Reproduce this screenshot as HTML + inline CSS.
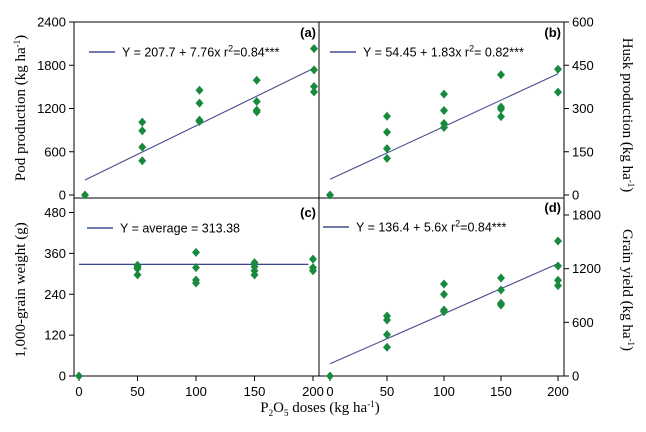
<!DOCTYPE html>
<html><head><meta charset="utf-8"><style>
body{margin:0;background:#fff;width:646px;height:432px;overflow:hidden}
svg{display:block}
.t{font-family:"Liberation Sans",Arial,sans-serif;font-size:13px;fill:#000}
.s{font-family:"Liberation Serif","Times New Roman",serif;font-size:15px;fill:#000}
.l{font-family:"Liberation Sans",Arial,sans-serif;font-size:12.5px;fill:#000}
.p{font-family:"Liberation Sans",Arial,sans-serif;font-size:13px;font-weight:bold;fill:#000}
</style></head><body>
<svg id="chart" width="646" height="432" xmlns="http://www.w3.org/2000/svg"></svg>
<script>
const doses=[0,50,100,150,200];
const podVals=[[0],[1011,891,665,475],[1454,1274,1038,1020],[1592,1297,1177,1154],[2031,1735,1505,1431]];
const huskVals=[[0],[273,218,161,127],[350,293,248,234],[417,305,298,272],[436,357]];
const grainWVals=[[0],[325,320,315,297],[363,318,282,273],[333,321,309,297],[343,318,309]];
const yieldVals=[[0],[671,626,462,321],[1029,913,738,719],[1096,962,813,794],[1509,1230,1070,1010]];
const podFit=[207.7,7.76];
const huskFit=[54.45,1.83];
const grainAvg=[328];
const yieldFit=[136.4,5.6];
const podTicks=[0,600,1200,1800,2400];
const huskTicks=[0,150,300,450,600];
const grainTicks=[0,120,240,360,480];
const yieldTicks=[0,600,1200,1800];
const xTicks=[0,50,100,150,200];

const svg=document.getElementById('chart');
const NS='http://www.w3.org/2000/svg';
function mk(tag,attrs,parent){const e=document.createElementNS(NS,tag);for(const k in attrs)e.setAttribute(k,attrs[k]);(parent||svg).appendChild(e);return e;}
function lin(d0,d1,r0,r1){return v=>r0+(v-d0)*(r1-r0)/(d1-d0);}

const panels=[
 {id:'a',vals:podVals,fit:podFit,x:lin(0,200,85,314),y:lin(0,2400,195,22),legend:'Y = 207.7 + 7.76x r',sup:'2',tail:'=0.84***',lx:89,ly:52,px:316,py:37},
 {id:'b',vals:huskVals,fit:huskFit,x:lin(0,200,330,558),y:lin(0,600,195,22),legend:'Y = 54.45 + 1.83x r',sup:'2',tail:'= 0.82***',lx:330,ly:52,px:561,py:37},
 {id:'c',vals:grainWVals,avg:grainAvg,x:lin(0,200,79,313),y:lin(0,480,376,212.5),legend:'Y = average = 313.38',lx:87,ly:228,px:316,py:217},
 {id:'d',vals:yieldVals,fit:yieldFit,x:lin(0,200,330,558),y:lin(0,1800,376,215),legend:'Y = 136.4 + 5.6x r',sup:'2',tail:'=0.84***',lx:323,ly:227,px:561,py:212}
];

const frame=mk('g',{});


mk('rect',{x:74,y:22,width:490,height:354,fill:'none',stroke:'#000','stroke-width':1},frame);
mk('line',{x1:319,y1:22,x2:319,y2:376,stroke:'#000','stroke-width':1},frame);
mk('line',{x1:74,y1:198,x2:564,y2:198,stroke:'#000','stroke-width':1},frame);

function yAxis(ticks,y,side,name){
 const g=mk('g',{});
 
 
 ticks.forEach(v=>{
  const yy=y(v);
  if(side==='l'){mk('line',{x1:69,y1:yy,x2:74,y2:yy,stroke:'#000'},g);
   const t=mk('text',{x:66,y:yy+4.5,'text-anchor':'end',class:'t'},g);t.textContent=v;}
  else{mk('line',{x1:564,y1:yy,x2:569,y2:yy,stroke:'#000'},g);
   const t=mk('text',{x:572,y:yy+4.5,'text-anchor':'start',class:'t'},g);t.textContent=v;}
 });
}
yAxis(podTicks,panels[0].y,'l','y-axis-pod');
yAxis(huskTicks,panels[1].y,'r','y-axis-husk');
yAxis(grainTicks,panels[2].y,'l','y-axis-grain-weight');
yAxis(yieldTicks,panels[3].y,'r','y-axis-grain-yield');
[panels[2],panels[3]].forEach((p,i)=>{
 const g=mk('g',{});
 
 
 xTicks.forEach(v=>{const xx=p.x(v);
  mk('line',{x1:xx,y1:376,x2:xx,y2:381,stroke:'#000'},g);
  const t=mk('text',{x:xx,y:396,'text-anchor':'middle',class:'t'},g);t.textContent=v;});
});

panels.forEach(p=>{
 const g=mk('g',{});
 
 
 let y0,y1;
 if(p.fit){y0=p.fit[0];y1=p.fit[0]+p.fit[1]*200;}else{y0=p.avg[0];y1=p.avg[0];}
 const ln=mk('line',{x1:p.x(0),y1:p.y(y0),x2:p.x(p.avg?196:200),y2:p.y(y1),stroke:p.avg?'#1f2f7a':'#4a4c8c','stroke-width':1.1},g);
 
 
 p.vals.forEach((arr,i)=>arr.forEach(v=>{
  const cx=p.x(doses[i]),cy=p.y(v);
  const d=mk('polygon',{points:`${cx},${cy-4.5} ${cx+4},${cy} ${cx},${cy+4.5} ${cx-4},${cy}`,fill:'#178a3e'},g);
  
  
 }));
 const lg=mk('g',{});
 
 
 mk('line',{x1:p.lx,y1:p.ly,x2:p.lx+26,y2:p.ly,stroke:'#1f2f7a','stroke-width':1.2},lg);
 const t=mk('text',{x:p.lx+33,y:p.ly+4.5,class:'l'},lg);
 t.textContent=p.legend;
 if(p.sup){const s=mk('tspan',{dy:-5,'font-size':'9px'},t);s.textContent=p.sup;
  const r=mk('tspan',{dy:5},t);r.textContent=p.tail;}
 const pl=mk('text',{x:p.px,y:p.py,'text-anchor':'end',class:'p'});
 pl.textContent='('+p.id+')';
 
 
});
</script>
<svg width="646" height="432" style="position:absolute;left:0;top:0" xmlns="http://www.w3.org/2000/svg">
<text class="s" transform="translate(25,108) rotate(-90)" text-anchor="middle">Pod production (kg ha<tspan dy="-5" font-size="9">-1</tspan><tspan dy="5">)</tspan></text>
<text class="s" transform="translate(25,290) rotate(-90)" text-anchor="middle">1,000-grain weight (g)</text>
<text class="s" transform="translate(623,115) rotate(90)" text-anchor="middle">Husk production (kg ha<tspan dy="-5" font-size="9">-1</tspan><tspan dy="5">)</tspan></text>
<text class="s" transform="translate(623,290) rotate(90)" text-anchor="middle">Grain yield (kg ha<tspan dy="-5" font-size="9">-1</tspan><tspan dy="5">)</tspan></text>
<text class="s" x="320" y="412" text-anchor="middle">P<tspan dy="4" font-size="9">2</tspan><tspan dy="-4">O</tspan><tspan dy="4" font-size="9">5</tspan><tspan dy="-4"> doses (kg ha</tspan><tspan dy="-5" font-size="9">-1</tspan><tspan dy="5">)</tspan></text>
</svg>
</body></html>
